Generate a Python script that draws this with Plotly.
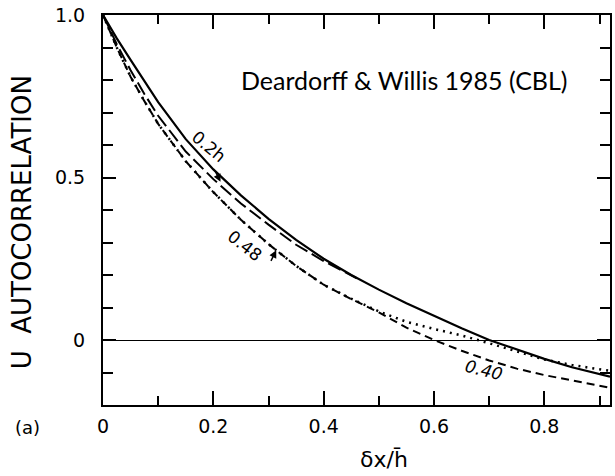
import plotly.graph_objects as go

# ---- data ----
x_solid = [0, 0.025, 0.05, 0.075, 0.1, 0.15, 0.2, 0.25, 0.3, 0.35, 0.4, 0.45, 0.5, 0.55, 0.6, 0.65, 0.7, 0.75, 0.8, 0.85, 0.919]
y_solid = [1.0, 0.928, 0.862, 0.795, 0.732, 0.618, 0.525, 0.445, 0.373, 0.308, 0.25, 0.2, 0.155, 0.113, 0.074, 0.036, 0.0, -0.03, -0.058, -0.084, -0.113]

x_02h = [0, 0.025, 0.05, 0.075, 0.1, 0.15, 0.2, 0.25, 0.3, 0.35, 0.4, 0.46]
y_02h = [1.0, 0.91, 0.83, 0.757, 0.69, 0.58, 0.495, 0.42, 0.355, 0.293, 0.243, 0.19]

x_048 = [0, 0.025, 0.05, 0.075, 0.1, 0.15, 0.2, 0.25, 0.3, 0.35, 0.4, 0.45, 0.5, 0.55, 0.6, 0.65, 0.7, 0.75, 0.8, 0.85, 0.919]
y_048 = [1.0, 0.9, 0.81, 0.735, 0.665, 0.55, 0.455, 0.37, 0.295, 0.228, 0.17, 0.127, 0.088, 0.056, 0.034, 0.014, -0.01, -0.036, -0.06, -0.077, -0.095]

x_040 = [0, 0.025, 0.05, 0.075, 0.1, 0.15, 0.2, 0.25, 0.3, 0.35, 0.4, 0.45, 0.5, 0.55, 0.6, 0.65, 0.7, 0.75, 0.8, 0.85, 0.919]
y_040 = [1.0, 0.9, 0.81, 0.735, 0.665, 0.55, 0.455, 0.37, 0.295, 0.228, 0.17, 0.126, 0.085, 0.038, 0.0, -0.033, -0.063, -0.088, -0.108, -0.125, -0.147]

x_tickvals = [0, 0.2, 0.4, 0.6, 0.8]
x_ticktext = ["0", "0.2", "0.4", "0.6", "0.8"]
y_tickvals = [0, 0.5, 1.0]
y_ticktext = ["0", "0.5", "1.0"]

fig = go.Figure()
fig.add_trace(go.Scatter(x=x_solid, y=y_solid, mode="lines", line=dict(color="black", width=2.2)))
fig.add_trace(go.Scatter(x=x_02h, y=y_02h, mode="lines", line=dict(color="black", width=2, dash="14px,5px")))
fig.add_trace(go.Scatter(x=x_040, y=y_040, mode="lines", line=dict(color="black", width=2, dash="8px,5px")))
fig.add_trace(go.Scatter(x=x_048, y=y_048, mode="lines", line=dict(color="black", width=2.5, dash="2px,5px")))

tickfont = dict(family="DejaVu Sans", size=19, color="black")

fig.update_layout(
    width=615, height=476,
    margin=dict(l=103, r=3, t=15, b=71),
    paper_bgcolor="white", plot_bgcolor="white",
    showlegend=False,
    xaxis=dict(range=[0, 0.919], showgrid=False, zeroline=False,
               showline=True, linecolor="black", linewidth=2, mirror="allticks",
               ticks="inside", ticklen=14, tickwidth=1.5, tickcolor="black",
               tickvals=x_tickvals, ticktext=x_ticktext, tickfont=tickfont,
               ticklabelstandoff=3,
               minor=dict(dtick=0.1, ticks="inside", ticklen=9, tickwidth=1.5, tickcolor="black", showgrid=False)),
    yaxis=dict(range=[-0.2, 1.0], showgrid=False,
               zeroline=True, zerolinecolor="black", zerolinewidth=1.2,
               showline=True, linecolor="black", linewidth=2, mirror="allticks",
               ticks="inside", ticklen=13, tickwidth=1.5, tickcolor="black",
               tickvals=y_tickvals, ticktext=y_ticktext, tickfont=tickfont,
               ticklabelstandoff=12,
               minor=dict(dtick=0.1, ticks="inside", ticklen=10, tickwidth=1.5, tickcolor="black", showgrid=False)),
)

fig.add_annotation(xref="paper", yref="paper", x=-0.158, y=0.468, text="U  AUTOCORRELATION",
                   textangle=-90, showarrow=False, xanchor="center", yanchor="middle",
                   font=dict(family="DejaVu Sans", size=26, color="black"))
fig.add_annotation(xref="paper", yref="paper", x=0.554, y=-0.14, text="δx/h\u0304",
                   showarrow=False, xanchor="center", yanchor="middle",
                   font=dict(family="DejaVu Sans", size=22, color="black"))
fig.add_annotation(xref="paper", yref="paper", x=-0.148, y=-0.058, text="(a)",
                   showarrow=False, xanchor="center", yanchor="middle",
                   font=dict(family="DejaVu Sans", size=18, color="black"))
fig.add_annotation(xref="paper", yref="paper", x=0.595, y=0.833, text="Deardorff & Willis 1985 (CBL)",
                   showarrow=False, xanchor="center", yanchor="middle",
                   font=dict(family="Lato", size=25, color="black"))

# curve labels
fig.add_annotation(x=0.193, y=0.595, text="0.2h", textangle=40, showarrow=False,
                   font=dict(family="DejaVu Sans", size=17, color="black"))
fig.add_annotation(x=0.213, y=0.487, ax=-6, ay=-12, text="", showarrow=True,
                   arrowhead=2, arrowsize=1, arrowwidth=1.5, arrowcolor="black")
fig.add_annotation(x=0.258, y=0.29, text="0.48", textangle=38, showarrow=False,
                   font=dict(family="DejaVu Sans", size=17, color="black"))
fig.add_annotation(x=0.314, y=0.276, ax=-6, ay=12, text="", showarrow=True,
                   arrowhead=2, arrowsize=1, arrowwidth=1.5, arrowcolor="black")
fig.add_annotation(x=0.69, y=-0.092, text="<i>0.40</i>", textangle=14, showarrow=False,
                   font=dict(family="DejaVu Sans", size=17, color="black"))

fig.write_html("out.html")
